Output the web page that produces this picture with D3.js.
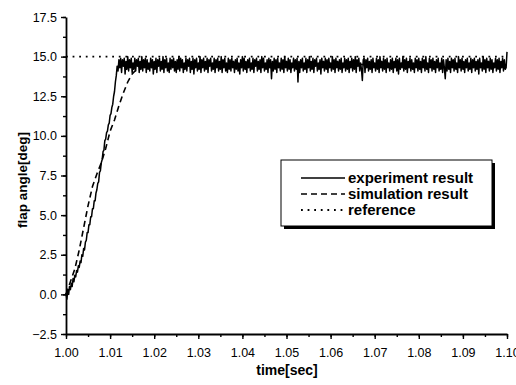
<!DOCTYPE html>
<html>
<head>
<meta charset="utf-8">
<script src="https://cdn.jsdelivr.net/npm/d3@7"></script>
<style>
  body { margin: 0; background: #fff; }
  svg { display: block; font-family: Arial, "Liberation Sans", sans-serif; }
</style>
</head>
<body>
<svg id="chart"></svg>
<script>
// experiment: sampled every 0.2 ms starting at t = 1.000 s
var expStart = 1.000
var expStep = 0.0002
var expValues = [
    // rise 1.0000 - 1.0120
    0.1, -0.3, 0.3, 0.0, 0.5, 0.3, 0.7, 0.5, 1.0, 0.8,
    1.2, 1.1, 1.5, 1.4, 1.8, 1.7, 2.1, 2.0, 2.5, 2.4,
    2.9, 2.8, 3.3, 3.4, 3.9, 3.9, 4.4, 4.4, 4.9, 4.9,
    5.4, 5.4, 5.9, 5.9, 6.4, 6.6, 7.0, 7.1, 7.7, 7.8,
    8.3, 8.5, 9.0, 9.1, 9.7, 9.8, 10.2, 10.3, 10.7, 10.8,
    11.3, 11.4, 11.8, 12.0, 12.5, 12.8, 13.4, 13.8, 14.4, 14.1,
    14.8,
    // plateau 1.0122 - 1.1000
    14.3, 14.9, 14.0, 14.8, 14.4, 14.9, 13.9, 14.7, 14.2, 15.0,
    14.1, 14.8, 14.3, 14.9, 14.0, 14.6, 14.2, 14.9, 14.1, 14.8,
    14.4, 14.9, 14.0, 14.7, 14.2, 15.0, 14.1, 14.8, 14.3, 14.9,
    14.0, 14.8, 14.2, 14.6, 14.1, 14.9, 14.3, 14.8, 13.9, 14.7,
    14.2, 14.9, 14.0, 14.8, 14.4, 14.9, 14.1, 14.7, 14.2, 15.0,
    14.0, 14.8, 14.3, 14.9, 14.1, 14.6, 14.0, 14.9, 14.2, 14.8,
    14.3, 14.9, 14.1, 14.7, 14.0, 14.8, 14.2, 15.0, 14.1, 14.9,
    14.3, 14.8, 14.0, 14.6, 14.2, 14.9, 14.1, 14.8, 14.4, 14.9,
    14.0, 14.7, 14.2, 14.9, 13.9, 14.8, 14.3, 14.9, 14.1, 14.6,
    14.2, 15.0, 14.0, 14.8, 14.3, 14.9, 14.1, 14.7, 14.2, 14.9,
    14.0, 14.8, 14.4, 14.9, 14.1, 14.6, 14.2, 14.9, 14.0, 14.8,
    14.3, 14.9, 14.1, 14.7, 14.2, 15.0, 14.0, 14.8, 14.3, 14.9,
    14.1, 14.6, 14.0, 14.9, 14.2, 14.8, 14.1, 14.9, 14.3, 14.7,
    14.0, 14.8, 14.2, 14.9, 14.1, 14.6, 13.9, 14.8, 14.3, 15.0,
    14.1, 14.9, 14.2, 14.7, 14.0, 14.8, 14.3, 14.9, 14.1, 14.6,
    14.2, 14.9, 14.0, 14.8, 14.4, 14.9, 14.1, 14.7, 14.2, 14.8,
    14.0, 15.0, 14.3, 14.9, 14.1, 14.6, 14.2, 14.8, 14.0, 14.9,
    14.3, 14.8, 13.6, 14.7, 14.1, 14.9, 14.2, 14.8, 14.0, 14.9,
    14.3, 14.6, 14.1, 14.9, 14.2, 14.8, 14.0, 15.0, 14.3, 14.7,
    14.1, 14.9, 14.2, 14.8, 14.0, 14.6, 14.3, 14.9, 14.1, 14.8,
    14.2, 14.9, 13.4, 14.7, 14.0, 14.8, 14.3, 14.9, 14.1, 14.6,
    14.2, 14.9, 14.0, 14.8, 14.3, 15.0, 14.1, 14.7, 14.2, 14.9,
    14.0, 14.8, 14.4, 14.9, 14.1, 14.6, 14.2, 14.8, 13.9, 14.9,
    14.3, 14.7, 14.1, 14.9, 14.2, 14.8, 14.0, 14.9, 14.3, 14.6,
    14.1, 15.0, 14.2, 14.8, 14.0, 14.9, 14.3, 14.7, 14.1, 14.8,
    14.2, 14.9, 14.0, 14.6, 14.3, 14.9, 14.1, 14.8, 14.2, 14.9,
    14.0, 14.7, 14.3, 14.9, 14.1, 14.8, 14.2, 15.0, 14.0, 14.8,
    14.4, 14.9, 14.1, 14.6, 14.2, 13.5, 14.8, 14.9, 14.0, 14.8,
    14.3, 14.9, 14.1, 14.7, 14.2, 14.8, 14.0, 14.9, 14.3, 14.6,
    14.1, 14.9, 14.2, 14.8, 14.0, 15.0, 14.3, 14.7, 14.1, 14.9,
    14.2, 14.8, 14.0, 14.9, 14.3, 14.6, 14.1, 14.8, 14.2, 14.9,
    14.0, 14.7, 14.3, 14.9, 14.1, 14.8, 13.9, 14.9, 14.2, 14.6,
    14.3, 15.0, 14.1, 14.8, 14.2, 14.9, 14.0, 14.7, 14.3, 14.9,
    14.1, 14.8, 14.2, 14.6, 14.0, 14.9, 14.3, 14.8, 14.1, 14.9,
    14.2, 14.7, 14.0, 14.9, 14.3, 14.8, 14.1, 15.0, 14.2, 14.6,
    14.0, 14.9, 14.3, 14.8, 14.1, 14.9, 14.2, 14.7, 14.0, 14.8,
    14.3, 14.9, 14.1, 14.6, 14.2, 14.9, 14.0, 14.8, 14.3, 13.6,
    14.8, 14.1, 14.9, 14.2, 14.7, 14.0, 14.9, 14.3, 14.8, 14.1,
    14.9, 14.2, 14.6, 14.0, 15.0, 14.3, 14.8, 14.1, 14.9, 14.2,
    14.7, 14.0, 14.8, 14.3, 14.9, 14.1, 14.6, 14.2, 14.9, 14.0,
    14.8, 14.3, 14.9, 14.1, 14.7, 14.2, 14.8, 13.9, 14.9, 14.3,
    14.6, 14.1, 15.0, 14.2, 14.8, 14.0, 14.9, 14.3, 14.7, 14.1,
    14.9, 14.2, 14.8, 14.0, 14.6, 14.3, 14.9, 14.1, 14.8, 14.2,
    14.9, 14.0, 14.7, 14.3, 14.9, 14.1, 14.8, 14.2, 14.3, 15.3
]

var simTimes = [1.000, 1.001, 1.002, 1.003, 1.004, 1.005, 1.006, 1.007, 1.008, 1.009,
    1.010, 1.011, 1.012, 1.013, 1.014, 1.015, 1.016, 1.017, 1.018, 1.020, 1.100]
var simValues = [0.0, 0.8, 1.6, 2.8, 4.2, 5.6, 6.8, 7.6, 8.3, 9.2,
    10.3, 11.0, 11.9, 12.7, 13.4, 13.9, 14.2, 14.4, 14.5, 14.5, 14.5]

var refTimes = [1.000, 1.100]
var refValues = [15.0, 15.0]

var xTicks = [1.00, 1.01, 1.02, 1.03, 1.04, 1.05, 1.06, 1.07, 1.08, 1.09, 1.10]
var yTicks = [-2.5, 0.0, 2.5, 5.0, 7.5, 10.0, 12.5, 15.0, 17.5]

var legendNames = ['experiment result', 'simulation result', 'reference']

var dims = { width: 516, height: 385, l: 66, r: 507, t: 17, b: 334 }

var svg = d3.select('#chart')
    .attr('width', dims.width)
    .attr('height', dims.height)

var x = d3.scaleLinear().domain([1.00, 1.10]).range([dims.l, dims.r])
var y = d3.scaleLinear().domain([-2.5, 17.5]).range([dims.b, dims.t])

var expData = expValues.map((v, i) => ({ t: expStart + i * expStep, v: v }))
var simData = simTimes.map((t, i) => ({ t: t, v: simValues[i] }))
var refData = refTimes.map((t, i) => ({ t: t, v: refValues[i] }))

var line = d3.line().x(d => x(d.t)).y(d => y(d.v))

// dashes for each series
var styles = [
    { dash: null, width: 1.5 },
    { dash: '6,4', width: 1.6 },
    { dash: '1.8,4.8', width: 1.8 }
]

svg.append('path').datum(refData)
    .attr('d', line).attr('fill', 'none').attr('stroke', '#000')
    .attr('stroke-width', styles[2].width).attr('stroke-dasharray', styles[2].dash)

svg.append('path').datum(simData)
    .attr('d', line).attr('fill', 'none').attr('stroke', '#000')
    .attr('stroke-width', styles[1].width).attr('stroke-dasharray', styles[1].dash)

svg.append('path').datum(expData)
    .attr('d', line).attr('fill', 'none').attr('stroke', '#000')
    .attr('stroke-width', styles[0].width).attr('stroke-linejoin', 'round')

// axes, major + minor ticks outward
var minorX = d3.range(0, 21).map(i => 1.00 + i * 0.005)
var minorY = d3.range(0, 17).map(i => -2.5 + i * 1.25)

var xAxisG = svg.append('g').attr('transform', 'translate(0,' + dims.b + ')')
xAxisG.call(d3.axisBottom(x).tickValues(minorX).tickSize(3).tickFormat(''))
xAxisG.call(g => g.select('.domain').remove())
var xMajor = svg.append('g').attr('transform', 'translate(0,' + dims.b + ')')
    .call(d3.axisBottom(x).tickValues(xTicks).tickSize(5).tickSizeOuter(0).tickPadding(9).tickFormat(d3.format('.2f')))

var yAxisG = svg.append('g').attr('transform', 'translate(' + dims.l + ',0)')
yAxisG.call(d3.axisLeft(y).tickValues(minorY).tickSize(3).tickFormat(''))
yAxisG.call(g => g.select('.domain').remove())
var yMajor = svg.append('g').attr('transform', 'translate(' + dims.l + ',0)')
    .call(d3.axisLeft(y).tickValues(yTicks).tickSize(5).tickSizeOuter(0).tickPadding(4).tickFormat(d3.format('.1f')))

svg.selectAll('.domain').attr('stroke-width', 1.8)
svg.selectAll('.tick line').attr('stroke-width', 1.4)
svg.selectAll('.tick text').attr('font-size', 12.5).attr('fill', '#000')
    .attr('font-family', 'Arial, "Liberation Sans", sans-serif')

svg.append('text')
    .attr('x', 287).attr('y', 375)
    .attr('text-anchor', 'middle')
    .attr('font-size', 14).attr('font-weight', 'bold')
    .text('time[sec]')

svg.append('text')
    .attr('transform', 'translate(27,180) rotate(-90)')
    .attr('text-anchor', 'middle')
    .attr('font-size', 13.5).attr('font-weight', 'bold')
    .text('flap angle[deg]')

// legend with drop shadow
var lg = svg.append('g').attr('transform', 'translate(281,160)')
lg.append('rect').attr('x', 3).attr('y', 3).attr('width', 211).attr('height', 66).attr('fill', '#000')
lg.append('rect').attr('width', 211).attr('height', 66).attr('fill', '#fff').attr('stroke', '#000').attr('stroke-width', 1)

var rows = lg.selectAll('g.row')
    .data(legendNames)
    .join('g')
    .attr('class', 'row')
    .attr('transform', (d, i) => 'translate(0,' + (18 + i * 16) + ')')

rows.append('line')
    .attr('x1', 20).attr('x2', 64)
    .attr('stroke', '#000')
    .attr('stroke-width', (d, i) => i === 0 ? 1.4 : styles[i].width)
    .attr('stroke-dasharray', (d, i) => styles[i].dash)

rows.append('text')
    .attr('x', 67).attr('dy', '0.35em')
    .attr('font-size', 15).attr('font-weight', 'bold')
    .text(d => d)
</script>
</body>
</html>
